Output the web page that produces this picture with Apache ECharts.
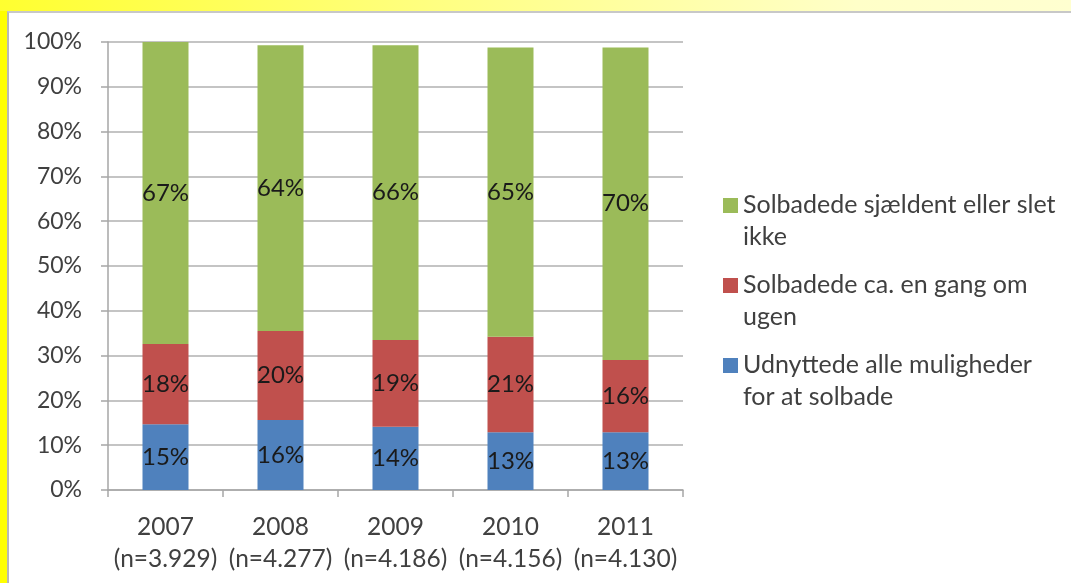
<!DOCTYPE html>
<html><head><meta charset="utf-8">
<script src="https://cdn.jsdelivr.net/npm/echarts@6/dist/echarts.min.js"></script>
<style>
html,body{margin:0;padding:0;width:1071px;height:583px;overflow:hidden;}
body{background:linear-gradient(to right,#ffff30 0%,#ffff80 40%,#ffffc8 80%,#ffffd0 100%);}
#frame{position:absolute;left:0;top:11px;width:7px;height:572px;background:#ffff00;}
#panel{position:absolute;left:7px;top:11px;right:0;bottom:0;background:#fff;border-left:2px solid #b8b8b8;border-top:2px solid #c8c8c8;}
#chart{position:absolute;left:0;top:0;width:1071px;height:583px;}
</style></head>
<body><div id="frame"></div><div id="panel"></div><div id="chart"></div>
<script>
const years = ['2007','2008','2009','2010','2011'];
const counts = ['(n=3.929)','(n=4.277)','(n=4.186)','(n=4.156)','(n=4.130)'];
const seriesNames = ['Udnyttede alle muligheder for at solbade','Solbadede ca. en gang om ugen','Solbadede sjældent eller slet ikke'];
const legendText = ['Udnyttede alle muligheder\nfor at solbade','Solbadede ca. en gang om\nugen','Solbadede sjældent eller slet\nikke'];
const blueVals = [14.7, 15.6, 14.1, 12.9, 12.9];
const redVals = [17.9, 19.9, 19.4, 21.3, 16.1];
const greenVals = [67.4, 63.8, 65.8, 64.6, 69.8];
const yTicks = ['0%','10%','20%','30%','40%','50%','60%','70%','80%','90%','100%'];
const colors = ['#4F81BD','#C0504D','#9BBB59'];
const font = 'Lato, "Open Sans", sans-serif';
const data = [blueVals, redVals, greenVals];
const cats = years.map((y,i)=>y+'\n'+counts[i]);
const chart = echarts.init(document.getElementById('chart'));
chart.setOption({
  animation:false,
  textStyle:{fontFamily:font},
  grid:{left:108,right:388,top:42,bottom:93,containLabel:false},
  legend:{
    orient:'vertical', top:184, left:718,
    itemWidth:15, itemHeight:46, itemGap:16,
    data:[seriesNames[2],seriesNames[1],seriesNames[0]],
    formatter:n=>legendText[seriesNames.indexOf(n)],
    textStyle:{fontSize:25,color:'#404040',lineHeight:32,fontFamily:font,padding:[0,0,0,0]},
    icon:'path://M0,0L15,0L15,15L0,15Z M0,46L0.001,46'
  },
  xAxis:{type:'category',data:cats,
    axisLine:{lineStyle:{color:'#a6a6a6',width:1.5}},
    axisTick:{show:true,alignWithLabel:false,length:7,lineStyle:{color:'#a6a6a6',width:1.5}},
    axisLabel:{interval:0,fontSize:24.5,color:'#404040',lineHeight:32,margin:21,fontFamily:font}
  },
  yAxis:{type:'value',min:0,max:100,interval:10,
    axisLine:{show:true,lineStyle:{color:'#a6a6a6',width:1.5}},
    axisTick:{show:true,length:7,lineStyle:{color:'#a6a6a6',width:1.5}},
    splitLine:{lineStyle:{color:'#b0b0b0',width:1.5}},
    axisLabel:{fontSize:23,color:'#404040',margin:26,fontFamily:font,formatter:v=>yTicks[Math.round(v/10)]}
  },
  series:data.map((d,i)=>({
    name:seriesNames[i],type:'bar',stack:'s',barWidth:46,data:d,
    itemStyle:{color:colors[i]},
    label:{show:true,position:'inside',fontSize:24,color:'#1a1a1a',fontFamily:font,
      formatter:p=>Math.round(p.value)+'%'}
  }))
});
</script></body></html>
